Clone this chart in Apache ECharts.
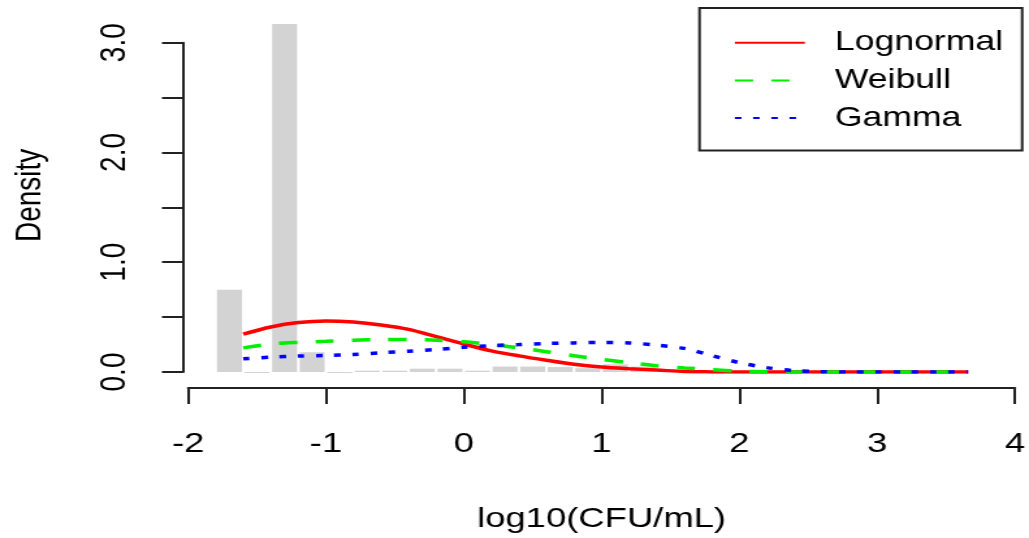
<!DOCTYPE html>
<html>
<head>
<meta charset="utf-8">
<script src="https://cdn.jsdelivr.net/npm/echarts@6/dist/echarts.min.js"></script>
<style>
html,body{margin:0;padding:0;background:#fff;overflow:hidden;width:1029px;height:538px;}
#chart{width:791px;height:538px;transform:scaleX(1.3009);transform-origin:0 0;}
</style>
</head>
<body>
<div id="chart"></div>
<script>
// ---- data ----
const histBinEdges = [-1.8,-1.6,-1.4,-1.2,-1.0,-0.8,-0.6,-0.4,-0.2,0.0,0.2,0.4,0.6,0.8,1.0,1.2,1.4,1.6];
const histDensity  = [0.75,0,3.17,0.18,0,0.012,0.012,0.03,0.03,0.012,0.05,0.05,0.045,0.035,0.07,0.05,0.02];

const curveX    = [-1.6,-1.4,-1.2,-1.0,-0.8,-0.6,-0.4,-0.2,0.0,0.2,0.4,0.6,0.8,1.0,1.2,1.4,1.6,1.8,2.0,2.2,2.4,2.6,2.8,3.0,3.2,3.4,3.66];
const lognormal = [0.345,0.41,0.45,0.465,0.455,0.428,0.388,0.322,0.255,0.193,0.147,0.107,0.07,0.045,0.03,0.018,0.004,0.001,0,0,0,0,0,0,0,0,0];
const weibull   = [0.22,0.255,0.27,0.28,0.29,0.295,0.295,0.29,0.275,0.25,0.222,0.185,0.148,0.115,0.085,0.056,0.037,0.022,0.008,0.002,0,0,0,0,0,0,0];
const gamma     = [0.12,0.135,0.145,0.15,0.16,0.175,0.19,0.205,0.225,0.24,0.25,0.26,0.265,0.27,0.265,0.245,0.215,0.15,0.085,0.04,0.012,0.003,0,0,0,0,0];

const seriesNames = ['Lognormal','Weibull','Gamma'];
const xTicks = {min:-2, max:4, interval:1};
const yTicks = {min:0, max:3, interval:0.5};
const xTitle = 'log10(CFU/mL)';
const yTitle = 'Density';

// ---- chart ----
const FONT = "'Liberation Sans', Arial, sans-serif";
const chart = echarts.init(document.getElementById('chart'), null, {renderer:'canvas'});

const histData = histDensity.map((d,i)=>[histBinEdges[i], histBinEdges[i+1], d]);
const pairs = ys => curveX.map((x,i)=>[x, ys[i]]);

chart.setOption({
  animation:false,
  backgroundColor:'#fff',
  grid:{left:144.6, right:7.2, top:42.7, bottom:160.5, containLabel:false},
  legend:{
    show:true,
    data:seriesNames,
    orient:'vertical',
    left:537.7, top:8,
    padding:[21.3,14.6,19,26.2],
    borderColor:'#222', borderWidth:2,
    itemWidth:53.8, itemHeight:26, itemGap:10.6,
    itemStyle:{opacity:0},
    textStyle:{fontFamily:FONT, fontSize:27.4, color:'#000', width:129, overflow:'none', padding:[0,0,0,18]}
  },
  xAxis:{
    type:'value', min:xTicks.min, max:xTicks.max, interval:xTicks.interval,
    offset:16,
    axisLine:{show:true, onZero:false, lineStyle:{color:'#222', width:2}},
    axisTick:{show:true, length:16, lineStyle:{color:'#222', width:2}},
    axisLabel:{fontFamily:FONT, fontSize:28, color:'#000', margin:42},
    splitLine:{show:false},
    name:xTitle, nameLocation:'middle', nameGap:117,
    nameTextStyle:{fontFamily:FONT, fontSize:28, color:'#000'}
  },
  yAxis:{
    type:'value', min:yTicks.min, max:yTicks.max, interval:yTicks.interval,
    offset:3.9,
    axisLine:{show:true, onZero:false, lineStyle:{color:'#222', width:2}},
    axisTick:{show:true, length:16.2, lineStyle:{color:'#222', width:2}},
    axisLabel:{fontFamily:FONT, fontSize:28, color:'#000', margin:38, rotate:90,
      formatter:v => (Math.abs(v - Math.round(v)) < 1e-9 ? v.toFixed(1) : '')},
    splitLine:{show:false},
    name:yTitle, nameLocation:'middle', nameGap:103, nameRotate:90,
    nameTextStyle:{fontFamily:FONT, fontSize:28, color:'#000', padding:[0,0,0,24]}
  },
  series:[
    {
      type:'custom',
      name:'hist',
      data:histData,
      clip:false,
      encode:{x:[0,1], y:2},
      renderItem:function(params, api){
        const lo = api.value(0), hi = api.value(1), v = api.value(2);
        const p1 = api.coord([lo, v]);
        const p2 = api.coord([hi, 0]);
        return {
          type:'rect',
          shape:{x:p1[0]+1, y:p1[1], width:(p2[0]-p1[0])-2, height:Math.max(p2[1]-p1[1], 1)},
          style:{fill:'#D3D3D3'}
        };
      },
      z:1
    },
    {
      type:'line', name:seriesNames[0], data:pairs(lognormal), smooth:0.3, symbol:'none',
      lineStyle:{color:'#FF0000', width:3.5, type:'solid'}, itemStyle:{color:'#FF0000'}, z:3
    },
    {
      type:'line', name:seriesNames[1], data:pairs(weibull), smooth:0.3, symbol:'none',
      lineStyle:{color:'#00EE00', width:3.5, type:[14,14]}, itemStyle:{color:'#00EE00'}, z:4
    },
    {
      type:'line', name:seriesNames[2], data:pairs(gamma), smooth:0.3, symbol:'none',
      lineStyle:{color:'#0000FF', width:3.5, type:[5,9]}, itemStyle:{color:'#0000FF'}, z:5
    }
  ]
});
</script>
</body>
</html>
